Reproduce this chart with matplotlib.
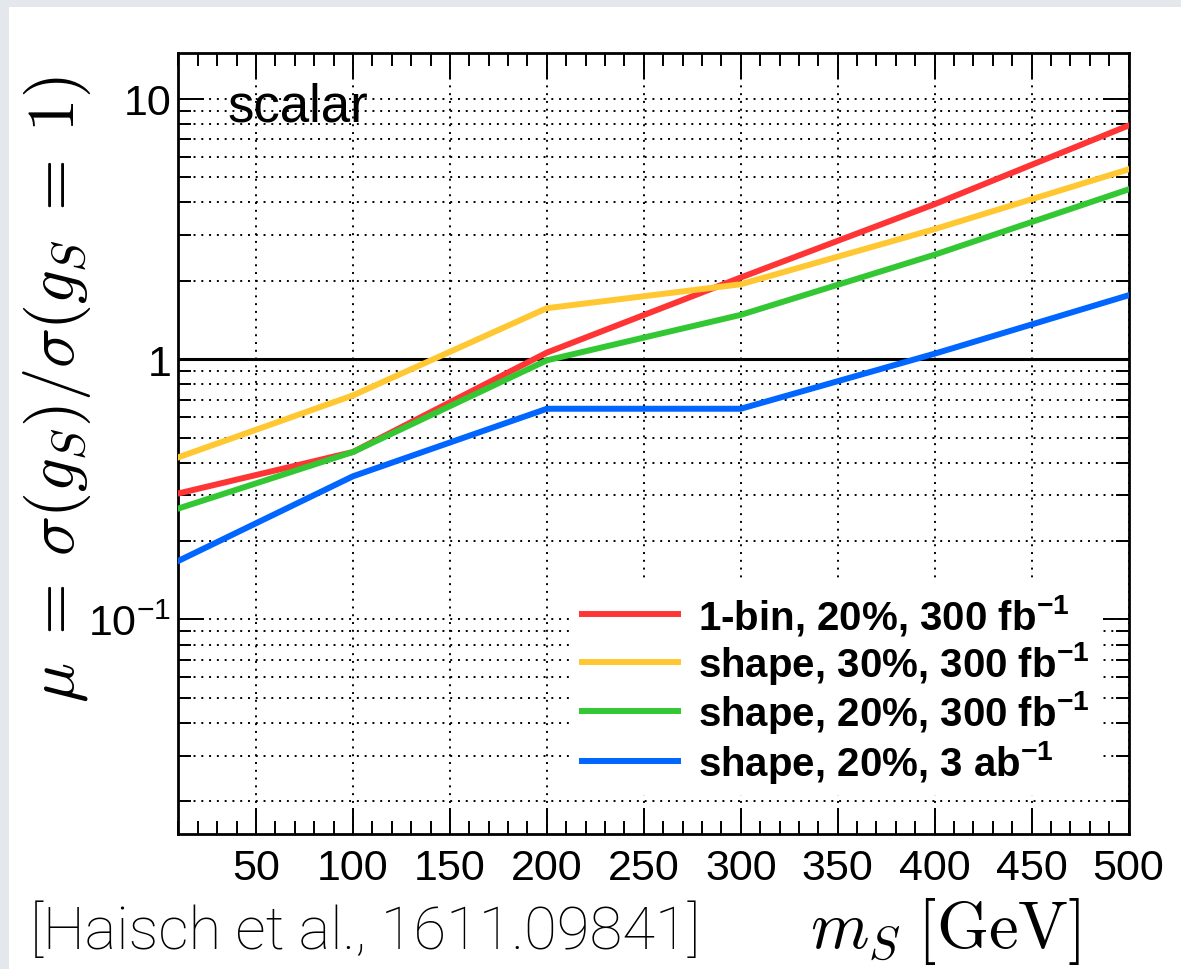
import matplotlib
matplotlib.use('Agg')
import matplotlib.pyplot as plt
from matplotlib.patches import Rectangle
from matplotlib.ticker import MultipleLocator, LogLocator, NullFormatter

# Data (x = scalar mass in GeV, y = signal strength mu)
mass = [10, 100, 200, 300, 400, 500]
mu_1bin_20_300fb = [0.305, 0.44, 1.06, 2.06, 3.94, 7.9]
mu_shape_30_300fb = [0.42, 0.726, 1.57, 1.94, 3.16, 5.36]
mu_shape_20_300fb = [0.267, 0.44, 0.99, 1.48, 2.52, 4.49]
mu_shape_20_3ab = [0.168, 0.355, 0.645, 0.645, 1.05, 1.76]

series = [mu_1bin_20_300fb, mu_shape_30_300fb, mu_shape_20_300fb, mu_shape_20_3ab]
labels = [r'1-bin, 20%, 300 fb$^{\mathbf{-1}}$',
          r'shape, 30%, 300 fb$^{\mathbf{-1}}$',
          r'shape, 20%, 300 fb$^{\mathbf{-1}}$',
          r'shape, 20%, 3 ab$^{\mathbf{-1}}$']
colors = ['#ff3535', '#ffc832', '#33c833', '#0066ff']

x_ticks = [50, 100, 150, 200, 250, 300, 350, 400, 450, 500]
y_ticks = [0.1, 1, 10]
y_ticklabels = [r'$10^{-1}$', '1', '10']

plt.rcParams['font.family'] = ['Liberation Sans', 'DejaVu Sans']
plt.rcParams['mathtext.fontset'] = 'custom'
plt.rcParams['mathtext.rm'] = 'Liberation Sans'
plt.rcParams['mathtext.it'] = 'Liberation Sans:italic'
plt.rcParams['mathtext.bf'] = 'Liberation Sans:bold'

fig = plt.figure(figsize=(11.81, 9.70), dpi=100, facecolor='#e4e7eb')
# white slide panel behind everything
fig.patches.append(Rectangle((9 / 1181, 0), 1, 1 - 8 / 970, transform=fig.transFigure,
                             facecolor='white', edgecolor='none', zorder=-10))

ax = fig.add_axes([0.1511, 0.1392, 0.8045, 0.8051])

for ys, lab, col in zip(series, labels, colors):
    ax.plot(mass, ys, color=col, lw=4.3, label=lab, solid_joinstyle='miter', zorder=3)

ax.axhline(1, color='black', lw=2.2, zorder=2)

ax.set_yscale('log')
ax.set_xlim(10, 500)
ax.set_ylim(0.015, 15)

ax.set_xticks(x_ticks)
ax.set_xticklabels([str(v) for v in x_ticks])
ax.xaxis.set_minor_locator(MultipleLocator(10))
ax.set_yticks(y_ticks)
ax.set_yticklabels(y_ticklabels)
ax.yaxis.set_minor_locator(LogLocator(base=10, subs=range(2, 10)))
ax.yaxis.set_minor_formatter(NullFormatter())

ax.tick_params(which='both', direction='in', top=True, right=True, width=1.4, colors='black')
ax.tick_params(which='major', length=19, labelsize=31)
ax.tick_params(which='minor', length=9.5)
ax.tick_params(axis='x', which='major', pad=10)
ax.tick_params(axis='y', which='major', pad=5)

ax.grid(True, which='major', axis='x', color='black', ls=(0, (1, 3)), lw=1.4)
ax.grid(True, which='both', axis='y', color='black', ls=(0, (1, 3)), lw=1.4)

for sp in ax.spines.values():
    sp.set_linewidth(2)

ax.text(0.052, 0.913, 'scalar', transform=ax.transAxes, fontsize=38, va='baseline', ha='left')

leg = ax.legend(loc='lower right', bbox_to_anchor=(0.970, 0.05), borderaxespad=0,
                frameon=True, fancybox=False, framealpha=1, facecolor='white',
                edgecolor='none', prop={'weight': 'bold', 'size': 29},
                handlelength=2.38, handletextpad=0.5, labelspacing=0.06, borderpad=0.25)
leg.set_zorder(4)

fig.text(57 / 1181, 1 - 390 / 970, r'$\mu\;=\;\sigma(g_S)/\sigma(g_S\;=\;1)$', rotation=90,
         ha='center', va='center', fontsize=48, math_fontfamily='cm')
fig.text(945 / 1181, 1 - 932 / 970, r'$m_S\;[\mathrm{GeV}]$', ha='center', va='center',
         fontsize=48, math_fontfamily='cm')
fig.text(30 / 1181, 1 - 932 / 970, '[Haisch et al., 1611.09841]', ha='left', va='center',
         fontsize=43, family='Roboto', weight='light', color='black')

fig.savefig('out.png', dpi=100, facecolor=fig.get_facecolor())
